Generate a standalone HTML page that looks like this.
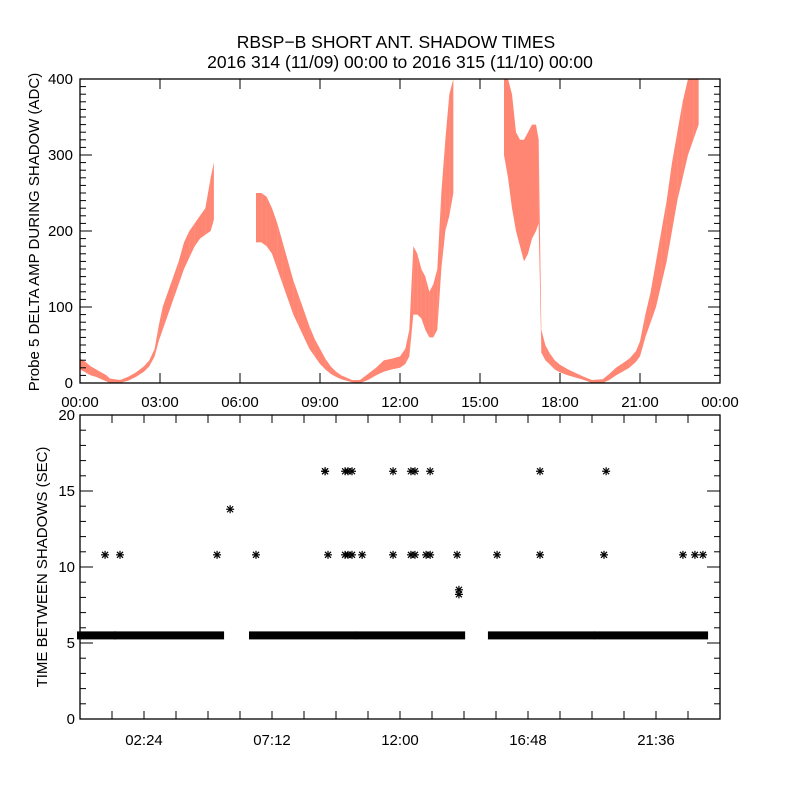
<!DOCTYPE html>
<html><head><meta charset="utf-8"><style>
body{margin:0;background:#fff;}
svg{display:block;font-family:"Liberation Sans",sans-serif;}
text{fill:#000;}
</style></head><body>
<svg id="chart" width="800" height="800" viewBox="0 0 800 800">
<rect width="800" height="800" fill="#fff"/>
<text x="396" y="48" font-size="17.5" text-anchor="middle">RBSP−B SHORT ANT. SHADOW TIMES</text>
<text x="400" y="68" font-size="17.5" text-anchor="middle">2016 314 (11/09) 00:00 to 2016 315 (11/10) 00:00</text>
<g id="topPanel"></g>
<g id="botPanel"></g>
<text transform="translate(39,232) rotate(-90)" font-size="15" text-anchor="middle">Probe 5 DELTA AMP DURING SHADOW (ADC)</text>
<text transform="translate(47,567) rotate(-90)" font-size="15" text-anchor="middle">TIME BETWEEN SHADOWS (SEC)</text>
</svg>
<script>
// ---- top panel data: hour, low, high of the amplitude band ----
const ampHours = [0,0.2,0.4,0.6,0.8,1.0,1.12, 1.5,1.8,2.1,2.4,2.6,2.8,2.95,3.1,3.3,3.5,3.7,3.9,4.1,4.3,4.5,4.7,4.9,5.02,
 6.6,6.8,7.0,7.2,7.4,7.6,7.8,8.0,8.2,8.4,8.6,8.8,9.0,9.2,9.4,9.6,9.8,10.0,10.2,
 10.5,10.8,11.1,11.4,11.7,12.0,12.2,12.35,12.5,12.65,12.8,12.95,13.1,13.25,13.4,13.55,13.7,13.85,14.0,
 15.9,16.05,16.2,16.35,16.5,16.65,16.8,16.95,17.1,17.2,17.3,17.45,17.6,17.8,18.0,18.3,18.6,18.9,19.2,
 19.6,19.85,20.1,20.35,20.6,20.85,21.0,21.2,21.4,21.6,21.8,22.0,22.2,22.4,22.6,22.8,23.0,23.2];
const ampLow = [18,14,10,8,5,2,0, 0,3,8,15,22,35,55,70,90,110,130,150,165,180,190,195,200,215,
 185,185,180,170,150,130,110,90,75,60,45,35,25,18,12,8,5,3,1,
 0,4,10,15,18,20,25,35,90,90,85,70,60,60,70,150,200,220,250,
 300,270,230,200,180,160,170,190,200,210,40,30,25,18,14,10,7,4,0,
 0,4,10,15,20,28,35,60,80,100,130,160,200,240,270,300,320,340];
const ampHigh = [32,28,22,18,14,10,6, 4,8,14,22,30,45,75,100,120,140,160,185,200,210,220,230,270,290,
 250,250,245,230,210,185,160,135,115,95,75,58,45,32,22,15,10,7,4,
 4,12,20,30,32,35,45,70,180,170,150,140,120,130,150,250,320,380,400,
 400,400,380,330,320,320,330,340,340,320,70,50,40,30,24,18,13,8,4,
 5,12,20,26,32,42,55,90,120,160,200,240,290,330,370,400,400,400];
// ---- bottom panel data ----
const bandStart = [0,1.39,6.45,10.46,15.41,19.39];
const bandEnd   = [1.24,5.29,10.27,14.33,19.2,23.44];
const bandValue = 5.5;
const eventHours = [0.94,1.5,5.14,5.63,6.6,9.19,9.3,9.94,10.05,10.2,10.58,11.74,12.41,12.56,12.98,13.13,14.14,14.21,14.21,15.64,17.25,19.65,22.61,23.06,23.36,
 9.19,9.94,10.05,10.2,11.74,12.41,12.56,13.13,17.25,19.73];
const eventValues = [10.8,10.8,10.8,13.8,10.8,16.3,10.8,10.8,10.8,10.8,10.8,10.8,10.8,10.8,10.8,10.8,10.8,8.5,8.2,10.8,10.8,10.8,10.8,10.8,10.8,
 16.3,16.3,16.3,16.3,16.3,16.3,16.3,16.3,16.3,16.3];
const topXLabels = ["00:00","03:00","06:00","09:00","12:00","15:00","18:00","21:00","00:00"];
const topYLabels = ["0","100","200","300","400"];
const botXLabels = ["02:24","07:12","12:00","16:48","21:36"];
const botYLabels = ["0","5","10","15","20"];

const NS="http://www.w3.org/2000/svg";
const L=80,R=720;
const xs=h=>L+h*(R-L)/24;
const T1=79,B1=383, ys1=v=>B1-v*(B1-T1)/400;
const T2=415,B2=719, ys2=v=>B2-v*(B2-T2)/20;
function mk(p,tag,at){const e=document.createElementNS(NS,tag);for(const k in at)e.setAttribute(k,at[k]);p.appendChild(e);return e;}
const topG=document.getElementById('topPanel'), botG=document.getElementById('botPanel');

// top band
for(let i=0;i<ampHours.length-1;i++){
  if(ampHours[i+1]-ampHours[i]>0.5) continue;
  const x0=xs(ampHours[i]),x1=xs(ampHours[i+1]);
  const pts=[[x0,ys1(ampHigh[i])],[x1,ys1(ampHigh[i+1])],[x1,ys1(ampLow[i+1])],[x0,ys1(ampLow[i])]];
  const p=mk(topG,'polygon',{points:pts.map(q=>q.join(',')).join(' '),fill:'#ff2200','fill-opacity':'0.55'});
  
  
}
// axes top
const f1=mk(topG,'rect',{x:L,y:T1,width:R-L,height:B1-T1,fill:'none',stroke:'#000','stroke-width':1.3});


for(let v=0;v<=400;v+=10){const len=v%100===0?12:6;
  mk(topG,'line',{x1:L,x2:L+len,y1:ys1(v),y2:ys1(v),stroke:'#000'});
  mk(topG,'line',{x1:R,x2:R-len,y1:ys1(v),y2:ys1(v),stroke:'#000'});}
topYLabels.forEach((s,i)=>{const t=mk(topG,'text',{x:73,y:ys1(i*100)+5,'font-size':15,'text-anchor':'end'});t.textContent=s;
  
  });
topXLabels.forEach((s,i)=>{const x=xs(i*3);
  mk(topG,'line',{x1:x,x2:x,y1:B1,y2:B1-10,stroke:'#000'});mk(topG,'line',{x1:x,x2:x,y1:T1,y2:T1+10,stroke:'#000'});
  const t=mk(topG,'text',{x:x,y:407,'font-size':15,'text-anchor':'middle'});t.textContent=s;
  
  });

// bottom
function star(x,y){const g=mk(botG,'g',{stroke:'#000','stroke-width':1.2});
  mk(g,'line',{x1:x-4,x2:x+4,y1:y,y2:y});mk(g,'line',{x1:x,x2:x,y1:y-4,y2:y+4});
  mk(g,'line',{x1:x-3,x2:x+3,y1:y-3,y2:y+3});mk(g,'line',{x1:x-3,x2:x+3,y1:y+3,y2:y-3});return g;}
bandStart.forEach((s,i)=>{
  const r=mk(botG,'rect',{x:xs(s)-3,y:ys2(bandValue)-4,width:xs(bandEnd[i])-xs(s)+6,height:8,fill:'#000'});
  
  });
eventHours.forEach((h,i)=>{const g=star(xs(h),ys2(eventValues[i]));
  
  });
const f2=mk(botG,'rect',{x:L,y:T2,width:R-L,height:B2-T2,fill:'none',stroke:'#000','stroke-width':1.3});


for(let v=0;v<=20;v++){const len=v%5===0?13:6;
  mk(botG,'line',{x1:L,x2:L+len,y1:ys2(v),y2:ys2(v),stroke:'#000'});
  mk(botG,'line',{x1:R,x2:R-len,y1:ys2(v),y2:ys2(v),stroke:'#000'});}
botYLabels.forEach((s,i)=>{const t=mk(botG,'text',{x:75,y:ys2(i*5)+5,'font-size':15,'text-anchor':'end'});t.textContent=s;
  
  });
for(let k=1;k<20;k++){const x=xs(k*1.2);
  mk(botG,'line',{x1:x,x2:x,y1:B2,y2:B2-8,stroke:'#000'});mk(botG,'line',{x1:x,x2:x,y1:T2,y2:T2+8,stroke:'#000'});}
botXLabels.forEach((s,i)=>{const t=mk(botG,'text',{x:xs(2.4+i*4.8),y:745,'font-size':15,'text-anchor':'middle'});t.textContent=s;
  
  });
</script>
</body></html>
